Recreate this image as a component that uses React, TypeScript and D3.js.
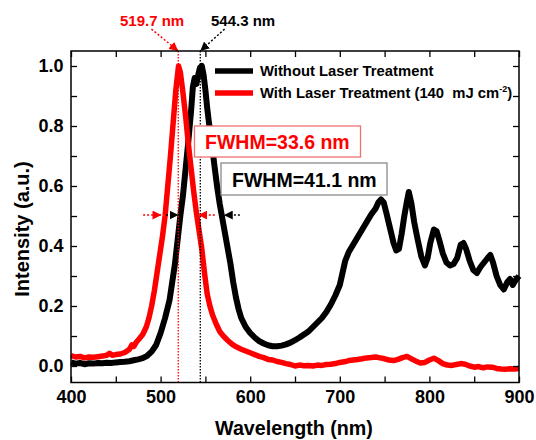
import React, { useRef, useEffect } from 'react';
import * as d3 from 'd3';

const FONT = "Arial, 'Liberation Sans', Helvetica, sans-serif";

// spectrum without laser treatment (black)
const wavelengthNoLaser = [
  400, 405, 410, 415, 420, 425, 430, 435, 440, 445, 450, 455, 460, 465, 470, 475, 480, 485, 490, 495,
  500, 505, 510, 513, 516, 519, 522, 525, 528, 531, 534, 536, 538, 540, 542, 544, 546, 548, 550, 552,
  554, 556, 558, 560, 563, 566, 569, 572, 575, 578, 581, 584, 587, 590, 595, 600, 605, 610, 615, 620,
  625, 630, 635, 640, 645, 650, 655, 660, 665, 670, 675, 680, 685, 690, 695, 700, 703, 706, 710, 715,
  720, 725, 730, 735, 740, 743, 746, 749, 752, 756, 760, 763, 766, 769, 772, 775, 777, 780, 783, 787,
  791, 795, 798, 801, 805, 808, 811, 815, 819, 823, 827, 831, 835, 838, 841, 845, 849, 853, 857, 861,
  865, 868, 871, 875, 879, 883, 887, 890, 893, 896, 900,
];
const intensityNoLaser = [
  0.012, 0.008, 0.01, 0.006, 0.009, 0.008, 0.01, 0.009, 0.011, 0.01, 0.012, 0.013, 0.014, 0.016, 0.019, 0.022, 0.026, 0.034, 0.048, 0.07,
  0.11, 0.16, 0.22, 0.28, 0.34, 0.42, 0.5, 0.57, 0.66, 0.75, 0.85, 0.93, 0.96, 0.94, 0.97, 0.995, 1.0, 0.97, 0.92, 0.86,
  0.81, 0.77, 0.72, 0.67, 0.6, 0.54, 0.49, 0.44, 0.39, 0.34, 0.28, 0.23, 0.19, 0.16, 0.13, 0.11, 0.095, 0.083, 0.075, 0.069,
  0.066, 0.066, 0.068, 0.072, 0.078, 0.086, 0.095, 0.105, 0.115, 0.13, 0.145, 0.16, 0.18, 0.205, 0.235, 0.27, 0.31, 0.35, 0.38, 0.405,
  0.43, 0.455, 0.48, 0.505, 0.525, 0.545, 0.555, 0.545, 0.51, 0.46, 0.41, 0.385, 0.39, 0.44, 0.5, 0.55, 0.58, 0.54, 0.48, 0.42,
  0.365, 0.335, 0.36, 0.41, 0.455, 0.45, 0.42, 0.375, 0.345, 0.335, 0.34, 0.36, 0.405, 0.41, 0.39, 0.35, 0.32, 0.31, 0.33, 0.345,
  0.36, 0.37, 0.345, 0.3, 0.27, 0.255, 0.28, 0.29, 0.27, 0.285, 0.3,
];

// spectrum with laser treatment (red)
const wavelengthLaser = [
  400, 405, 410, 415, 420, 425, 430, 435, 440, 443, 446, 450, 455, 460, 465, 468, 470, 473, 476, 480,
  484, 487, 490, 493, 496, 499, 502, 505, 508, 511, 514, 517, 520, 522, 525, 528, 531, 534, 537, 540,
  543, 546, 549, 552, 555, 558, 562, 566, 570, 575, 580, 585, 590, 595, 600, 605, 610, 615, 620, 625,
  630, 635, 640, 645, 650, 655, 660, 665, 670, 675, 680, 685, 690, 695, 700, 705, 710, 715, 720, 725,
  730, 735, 740, 745, 750, 755, 760, 765, 770, 775, 780, 785, 790, 795, 800, 805, 810, 815, 820, 825,
  830, 835, 840, 845, 850, 855, 860, 865, 870, 875, 880, 885, 890, 895, 900,
];
const intensityLaser = [
  0.035, 0.03, 0.032, 0.027, 0.03, 0.029, 0.031, 0.033, 0.036, 0.042, 0.036, 0.038, 0.04, 0.045, 0.055, 0.07, 0.065, 0.08, 0.09, 0.105,
  0.13, 0.16, 0.2, 0.25, 0.31, 0.37, 0.43, 0.5, 0.6, 0.7, 0.81, 0.92, 1.0, 0.98, 0.91, 0.83, 0.74, 0.66, 0.58, 0.51,
  0.45, 0.39, 0.31, 0.24, 0.2, 0.17, 0.14, 0.115, 0.1, 0.085, 0.072, 0.063, 0.056, 0.05, 0.044, 0.038, 0.032, 0.028, 0.022, 0.02,
  0.015, 0.012, 0.008, 0.005, 0.0, 0.003, 0.001, 0.002, 0.0, 0.003, 0.002, 0.005, 0.006, 0.008, 0.012, 0.014, 0.018, 0.02, 0.022, 0.024,
  0.027, 0.028, 0.03, 0.027, 0.024, 0.02, 0.018, 0.022, 0.028, 0.032, 0.024, 0.016, 0.01, 0.012, 0.02, 0.026, 0.018, 0.008, 0.003, 0.002,
  0.005, 0.008, 0.006, 0.0, -0.004, -0.002, -0.006, -0.003, -0.004, -0.008, -0.01, -0.011, -0.009, -0.01, -0.008,
];

const xTickLabels = [400, 500, 600, 700, 800, 900];
const yTickLabels = [0.0, 0.2, 0.4, 0.6, 0.8, 1.0];

const peakLaser = 519.7;
const peakNoLaser = 544.3;
// half-maximum markers: [tail, tip] in nm
const fwhmArrowsLaser = [[480.5, 501], [560.5, 542]];
const fwhmArrowsNoLaser = [[506, 520], [588.5, 570.5]];

const App = () => {
  const ref = useRef<SVGSVGElement>(null);

  useEffect(() => {
    const svg = d3.select(ref.current);
    svg.selectAll('*').remove();

    const x = d3.scaleLinear().domain([400, 900]).range([71, 519]);
    const y = d3.scaleLinear().domain([-0.055, 1.05]).range([382.5, 51]);

    const defs = svg.append('defs');
    [['arRed', '#ff0000'], ['arBlack', '#000']].forEach(([id, c]) => {
      defs
        .append('marker')
        .attr('id', id)
        .attr('viewBox', '0 -5 10 10')
        .attr('refX', 10)
        .attr('refY', 0)
        .attr('markerUnits', 'userSpaceOnUse')
        .attr('markerWidth', 9)
        .attr('markerHeight', 9)
        .attr('orient', 'auto')
        .append('path')
        .attr('d', 'M0,-5L10,0L0,5Z')
        .attr('fill', c);
    });

    // spectra
    const line = (wl: number[]) =>
      d3
        .line<number>()
        .x((d, i) => x(wl[i]))
        .y((d) => y(d));

    svg
      .append('path')
      .attr('d', line(wavelengthNoLaser)(intensityNoLaser))
      .attr('fill', 'none')
      .attr('stroke', '#000')
      .attr('stroke-width', 6)
      .attr('stroke-linejoin', 'round');

    svg
      .append('path')
      .attr('d', line(wavelengthLaser)(intensityLaser))
      .attr('fill', 'none')
      .attr('stroke', '#ff0000')
      .attr('stroke-width', 5.5)
      .attr('stroke-linejoin', 'round');

    // peak markers
    const peaks = [
      { wl: peakLaser, color: '#ff0000', marker: 'arRed', from: 489.8, label: '519.7 nm', lx: 120 },
      { wl: peakNoLaser, color: '#000', marker: 'arBlack', from: 571.4, label: '544.3 nm', lx: 211 },
    ];
    peaks.forEach((p) => {
      svg
        .append('line')
        .attr('x1', x(p.wl))
        .attr('x2', x(p.wl))
        .attr('y1', y(1.05))
        .attr('y2', y(-0.055))
        .attr('stroke', p.color)
        .attr('stroke-width', 1.3)
        .attr('stroke-dasharray', '1.5,1.5');
      svg
        .append('line')
        .attr('x1', x(p.from))
        .attr('y1', y(1.123))
        .attr('x2', x(p.wl))
        .attr('y2', y(1.05))
        .attr('stroke', p.color)
        .attr('stroke-width', 1.5)
        .attr('stroke-dasharray', '2,2')
        .attr('marker-end', `url(#${p.marker})`);
      svg
        .append('text')
        .attr('x', p.lx)
        .attr('y', 26)
        .attr('fill', p.color)
        .style('font-family', FONT)
        .style('font-weight', 'bold')
        .style('font-size', '15px')
        .text(p.label);
    });

    // FWHM arrows
    const fwhm = [
      { arrows: fwhmArrowsLaser, color: '#ff0000', marker: 'arRed' },
      { arrows: fwhmArrowsNoLaser, color: '#000', marker: 'arBlack' },
    ];
    fwhm.forEach((f) => {
      f.arrows.forEach(([tail, tip]) => {
        svg
          .append('line')
          .attr('x1', x(tail))
          .attr('x2', x(tip))
          .attr('y1', y(0.503))
          .attr('y2', y(0.503))
          .attr('stroke', f.color)
          .attr('stroke-width', 1.5)
          .attr('stroke-dasharray', '2,2')
          .attr('marker-end', `url(#${f.marker})`);
      });
    });

    // FWHM boxes
    const boxes = [
      { x: 194.5, y: 126, w: 166, h: 31, stroke: '#f07070', color: '#ff0000', text: 'FWHM=33.6 nm', tx: 205, ty: 149 },
      { x: 221, y: 163, w: 166, h: 32, stroke: '#8a8a8a', color: '#000', text: 'FWHM=41.1 nm', tx: 232, ty: 187 },
    ];
    boxes.forEach((b) => {
      svg
        .append('rect')
        .attr('x', b.x)
        .attr('y', b.y)
        .attr('width', b.w)
        .attr('height', b.h)
        .attr('fill', '#fff')
        .attr('stroke', b.stroke)
        .attr('stroke-width', 1.3);
      svg
        .append('text')
        .attr('x', b.tx)
        .attr('y', b.ty)
        .attr('fill', b.color)
        .style('font-family', FONT)
        .style('font-weight', 'bold')
        .style('font-size', '19.5px')
        .text(b.text);
    });

    // axes
    const styleAxis = (g: any) => {
      g.select('.domain').remove();
      g.selectAll('line').attr('stroke', '#000').attr('stroke-width', 1.3);
      g.selectAll('text')
        .attr('fill', '#000')
        .style('font-family', FONT)
        .style('font-weight', 'bold')
        .style('font-size', '18px');
    };
    const xMinor = d3.range(400, 901, 50);
    const yMinor = d3.range(0, 1.01, 0.1);

    svg
      .append('g')
      .attr('transform', `translate(0,${y(-0.055)})`)
      .call(
        d3
          .axisBottom(x)
          .tickValues(xMinor)
          .tickSize(-6)
          .tickPadding(8)
          .tickFormat((d: any) => (xTickLabels.includes(+d) ? String(d) : ''))
      )
      .call(styleAxis);
    svg
      .append('g')
      .attr('transform', `translate(0,${y(1.05)})`)
      .call(d3.axisTop(x).tickValues(xMinor).tickSize(-6).tickFormat(() => ''))
      .call(styleAxis);
    svg
      .append('g')
      .attr('transform', `translate(${x(400)},0)`)
      .call(
        d3
          .axisLeft(y)
          .tickValues(yMinor)
          .tickSize(-6)
          .tickPadding(7.5)
          .tickFormat((d: any) =>
            yTickLabels.some((v) => Math.abs(v - +d) < 1e-6) ? d3.format('.1f')(d) : ''
          )
      )
      .call(styleAxis);
    svg
      .append('g')
      .attr('transform', `translate(${x(900)},0)`)
      .call(d3.axisRight(y).tickValues(yMinor).tickSize(-6).tickFormat(() => ''))
      .call(styleAxis);

    svg
      .append('rect')
      .attr('x', x(400))
      .attr('y', y(1.05))
      .attr('width', x(900) - x(400))
      .attr('height', y(-0.055) - y(1.05))
      .attr('fill', 'none')
      .attr('stroke', '#000')
      .attr('stroke-width', 1.5);

    // axis titles
    svg
      .append('text')
      .attr('x', 294)
      .attr('y', 435)
      .attr('text-anchor', 'middle')
      .style('font-family', FONT)
      .style('font-weight', 'bold')
      .style('font-size', '19.7px')
      .text('Wavelength (nm)');
    svg
      .append('text')
      .attr('transform', 'translate(29,229) rotate(-90)')
      .attr('text-anchor', 'middle')
      .style('font-family', FONT)
      .style('font-weight', 'bold')
      .style('font-size', '20px')
      .text('Intensity (a.u.)');

    // legend
    const legend = svg.append('g').attr('class', 'legend');
    legend
      .append('line')
      .attr('x1', 215)
      .attr('x2', 253)
      .attr('y1', 71)
      .attr('y2', 71)
      .attr('stroke', '#000')
      .attr('stroke-width', 5.5);
    legend
      .append('text')
      .attr('x', 260)
      .attr('y', 76)
      .style('font-family', FONT)
      .style('font-weight', 'bold')
      .style('font-size', '14.8px')
      .text('Without Laser Treatment');
    legend
      .append('line')
      .attr('x1', 215)
      .attr('x2', 253)
      .attr('y1', 93)
      .attr('y2', 93)
      .attr('stroke', '#ff0000')
      .attr('stroke-width', 5.5);
    const t = legend
      .append('text')
      .attr('x', 260)
      .attr('y', 98)
      .style('font-family', FONT)
      .style('font-weight', 'bold')
      .style('font-size', '14.8px')
      .style('white-space', 'pre');
    t.append('tspan').text('With Laser Treatment (140  mJ cm');
    t.append('tspan').attr('dy', -6).style('font-size', '9px').text('-2');
    t.append('tspan').attr('dy', 6).text(')');
  }, []);

  return (
    <svg
      ref={ref}
      width={536}
      height={440}
      style={{ position: 'absolute', left: 0, top: 0, background: '#fff' }}
    ></svg>
  );
};

export default App;
